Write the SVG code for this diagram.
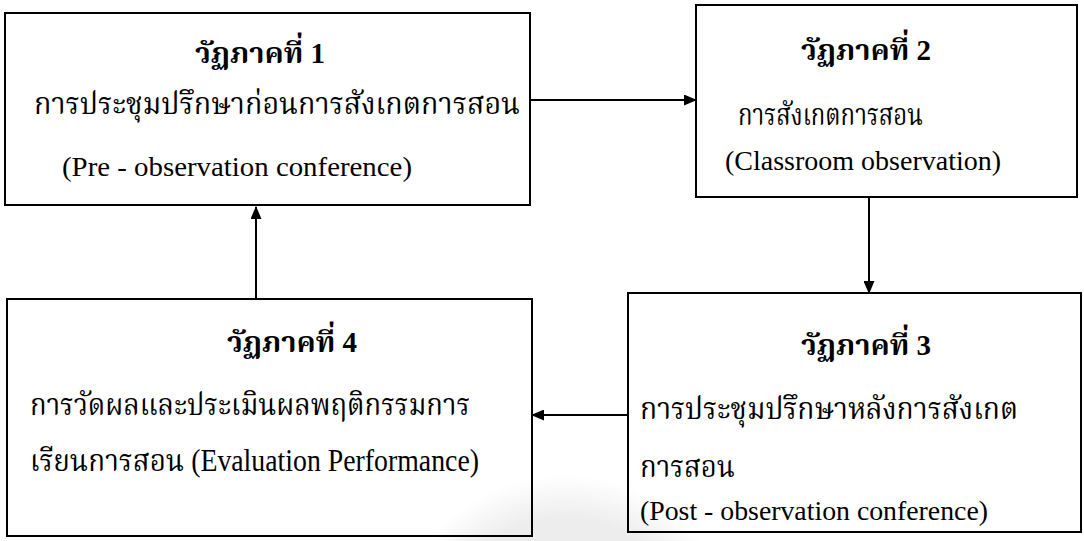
<svg xmlns="http://www.w3.org/2000/svg" width="1084" height="541" viewBox="0 0 1084 541">
<defs>
<marker id="ah" markerUnits="userSpaceOnUse" markerWidth="13" markerHeight="11" refX="12" refY="5.5" orient="auto">
<path d="M0,0 L13,5.5 L0,11 Z" fill="#000"/>
</marker>
<radialGradient id="wm" cx="0.5" cy="0.5" r="0.5">
<stop offset="0.75" stop-color="#ededed"/>
<stop offset="1" stop-color="#ededed" stop-opacity="0"/>
</radialGradient>
<style>
.box{fill:none;stroke:#000;stroke-width:2}
.t{font-family:"Liberation Serif","Noto Serif Thai","Noto Sans Thai","Loma","Garuda",serif;font-size:28px;fill:#000}
.th{font-size:31px}
.h{font-weight:bold;text-anchor:middle;font-size:29px}
.c{stroke:#000;stroke-width:2;fill:none;marker-end:url(#ah)}
</style>
</defs>
<rect width="1084" height="541" fill="#fff"/>
<circle cx="565" cy="650" r="175" fill="url(#wm)"/>
<g id="node1">
<rect class="box" x="5" y="13" width="525" height="192"/>
<text class="t h" x="260" y="63">วัฏภาคที่ 1</text>
<text class="t th" x="34" y="114" textLength="486" lengthAdjust="spacingAndGlyphs">การประชุมปรึกษาก่อนการสังเกตการสอน</text>
<text class="t" x="62" y="176" textLength="350" lengthAdjust="spacingAndGlyphs">(Pre - observation conference)</text>
</g>
<g id="node2">
<rect class="box" x="696" y="5" width="381" height="192"/>
<text class="t h" x="866" y="60">วัฏภาคที่ 2</text>
<text class="t th" x="738" y="125" textLength="185" lengthAdjust="spacingAndGlyphs">การสังเกตการสอน</text>
<text class="t" x="725" y="170" textLength="276" lengthAdjust="spacingAndGlyphs">(Classroom observation)</text>
</g>
<g id="node3">
<rect class="box" x="628" y="293" width="453" height="239"/>
<text class="t h" x="866" y="355">วัฏภาคที่ 3</text>
<text class="t th" x="640" y="419" textLength="378" lengthAdjust="spacingAndGlyphs">การประชุมปรึกษาหลังการสังเกต</text>
<text class="t th" x="640" y="477" textLength="95" lengthAdjust="spacingAndGlyphs">การสอน</text>
<text class="t" x="640" y="520" textLength="348" lengthAdjust="spacingAndGlyphs">(Post - observation conference)</text>
</g>
<g id="node4">
<rect class="box" x="7" y="299" width="525" height="237"/>
<text class="t h" x="292" y="352">วัฏภาคที่ 4</text>
<text class="t th" x="30" y="415" textLength="440" lengthAdjust="spacingAndGlyphs">การวัดผลและประเมินผลพฤติกรรมการ</text>
<text class="t th" x="30" y="471" textLength="449" lengthAdjust="spacingAndGlyphs">เรียนการสอน (Evaluation Performance)</text>
</g>
<g id="connectors">
<line class="c" x1="531" y1="100" x2="696" y2="100"/>
<line class="c" x1="869" y1="198" x2="869" y2="293"/>
<line class="c" x1="627" y1="415" x2="532" y2="415"/>
<line class="c" x1="256" y1="299" x2="256" y2="207"/>
</g>
</svg>
